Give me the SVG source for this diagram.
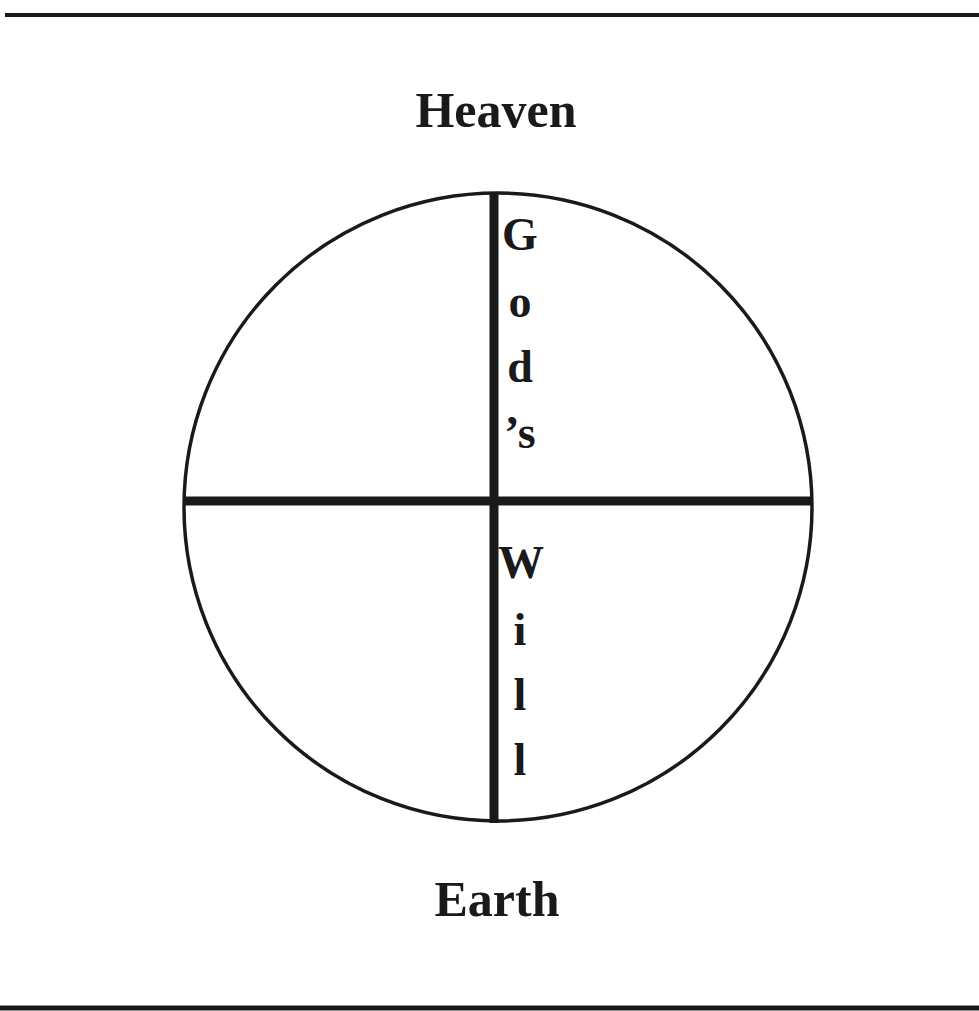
<svg xmlns="http://www.w3.org/2000/svg" width="979" height="1011" viewBox="0 0 979 1011">
<style>
.t{font-family:"Liberation Serif","Times New Roman",serif;font-weight:bold;fill:#1a1a1a}
.big{font-size:50px}
.v{font-size:46px;text-anchor:middle}
.ln{stroke:#1a1a1a;fill:none}
</style>
<rect width="979" height="1011" fill="#fff"/>
<g id="rules">
<line class="ln" x1="5" y1="15" x2="979" y2="15" stroke-width="4"/>
<line class="ln" x1="0" y1="1008" x2="979" y2="1008" stroke-width="5"/>
</g>
<g id="heaven"><text class="t big" x="496" y="127" text-anchor="middle">Heaven</text></g>
<g id="earth"><text class="t big" x="497" y="916" text-anchor="middle">Earth</text></g>
<g id="circle"><circle class="ln" cx="498" cy="507" r="314" stroke-width="3.5"/></g>
<g id="connectors">
<line class="ln" x1="494" y1="193" x2="494" y2="823" stroke-width="9"/>
<line class="ln" x1="184" y1="501" x2="812" y2="501" stroke-width="9"/>
</g>
<g id="label">
<text class="t v" x="520" y="250">G</text>
<text class="t v" x="520" y="317">o</text>
<text class="t v" x="520" y="382">d</text>
<text class="t v" x="520" y="448">’s</text>
<text class="t v" x="521" y="578">W</text>
<text class="t v" x="520" y="645">i</text>
<text class="t v" x="520" y="710">l</text>
<text class="t v" x="520" y="775">l</text>
</g>
</svg>
